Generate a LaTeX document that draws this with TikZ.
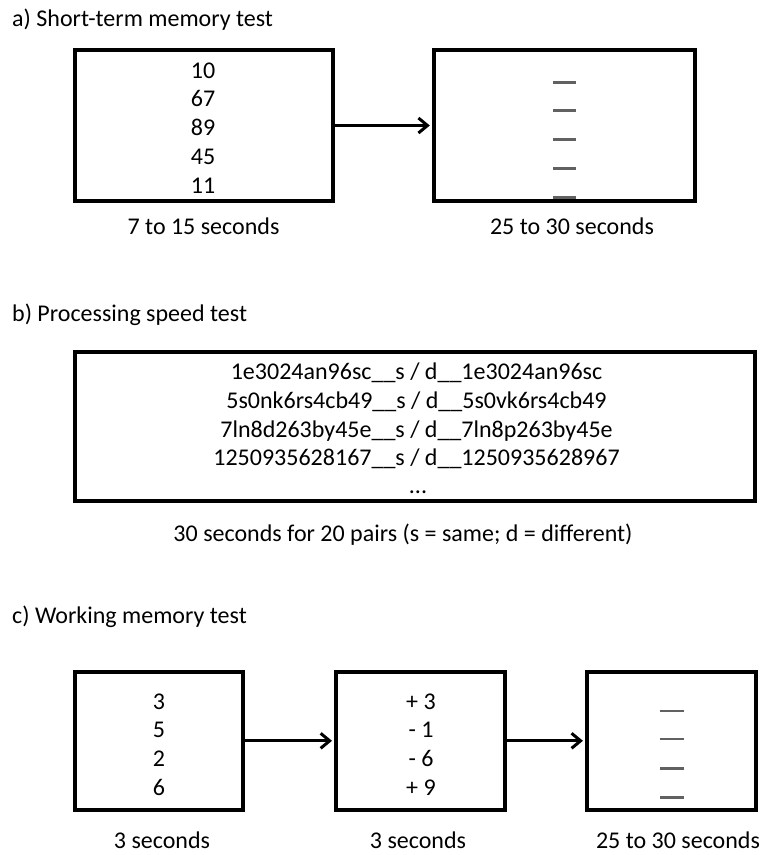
\documentclass[tikz,border=0pt]{standalone}
\usepackage{fontspec}
\setmainfont{Carlito}
\usetikzlibrary{arrows.meta}
\begin{document}
\begin{tikzpicture}[x=1pt,y=-1pt,
  font=\fontsize{24}{29}\selectfont,
  boxnode/.style={draw=black,line width=4pt,inner sep=0pt},
  txt/.style={inner sep=0pt,anchor=base},
  ttl/.style={inner sep=0pt,anchor=base west},
  conn/.style={line width=3pt,-{Straight Barb[length=9pt,width=15pt,line width=3pt]},shorten >=2pt},
  blank/.style={draw=black!62,line width=2.5pt}]
\useasboundingbox (0,0) rectangle (765,855);
% titles
\node[ttl] (ta) at (12,26) {a) Short-term memory test};
\node[ttl] (tb) at (12,321) {b) Processing speed test};
\node[ttl] (tc) at (12,623) {c) Working memory test};
% a) boxes
\node[boxnode,minimum width=258.5pt,minimum height=151pt] (a1) at (203.75,125.5) {};
\node[boxnode,minimum width=261pt,minimum height=151pt] (a2) at (564.3,125.5) {};
\node[txt] (a1l1) at (203,78.7) {10};
\node[txt] (a1l2) at (203,106) {67};
\node[txt] (a1l3) at (203,135) {89};
\node[txt] (a1l4) at (203,164.7) {45};
\node[txt] (a1l5) at (203,193.7) {11};
\foreach \yy in {82.3,110.3,139.3,168.7,197.5}
  \draw[blank] (553,\yy) -- (576,\yy);
\draw[conn] (a1.east) -- (a2.west);
\node[txt] (la1) at (203.5,234) {7 to 15 seconds};
\node[txt] (la2) at (572,234) {25 to 30 seconds};
% b) box
\node[boxnode,minimum width=680pt,minimum height=149pt] (b1) at (414.8,426.5) {};
\node[txt] (b1l1) at (416.5,379.7) {1e3024an96sc\_\_s / d\_\_1e3024an96sc};
\node[txt] (b1l2) at (416.5,408) {5s0nk6rs4cb49\_\_s / d\_\_5s0vk6rs4cb49};
\node[txt] (b1l3) at (416.5,437.3) {7ln8d263by45e\_\_s / d\_\_7ln8p263by45e};
\node[txt] (b1l4) at (416.5,465.3) {1250935628167\_\_s / d\_\_1250935628967};
\node[txt] (b1l5) at (418,493) {...};
\node[txt] (lb) at (403,541) {30 seconds for 20 pairs (s = same; d = different)};
% c) boxes
\node[boxnode,minimum width=168.5pt,minimum height=137.7pt] (c1) at (159.2,740.8) {};
\node[boxnode,minimum width=169pt,minimum height=137.7pt] (c2) at (420.5,740.8) {};
\node[boxnode,minimum width=169.5pt,minimum height=137.7pt] (c3) at (671.7,740.8) {};
\node[txt] (c1l1) at (159,709.7) {3};
\node[txt] (c1l2) at (159,737) {5};
\node[txt] (c1l3) at (159,766.3) {2};
\node[txt] (c1l4) at (159,795.3) {6};
\node[txt] (c2l1) at (421,709.7) {+ 3};
\node[txt] (c2l2) at (421,737) {- 1};
\node[txt] (c2l3) at (421,766.3) {- 6};
\node[txt] (c2l4) at (421,795.3) {+ 9};
\foreach \yy in {711,739,768.3,797.7}
  \draw[blank] (660,\yy) -- (684,\yy);
\draw[conn] (c1.east) -- (c2.west);
\draw[conn] (c2.east) -- (c3.west);
\node[txt] (lc1) at (162,848) {3 seconds};
\node[txt] (lc2) at (418,848) {3 seconds};
\node[txt] (lc3) at (678,848) {25 to 30 seconds};
\end{tikzpicture}
\end{document}
